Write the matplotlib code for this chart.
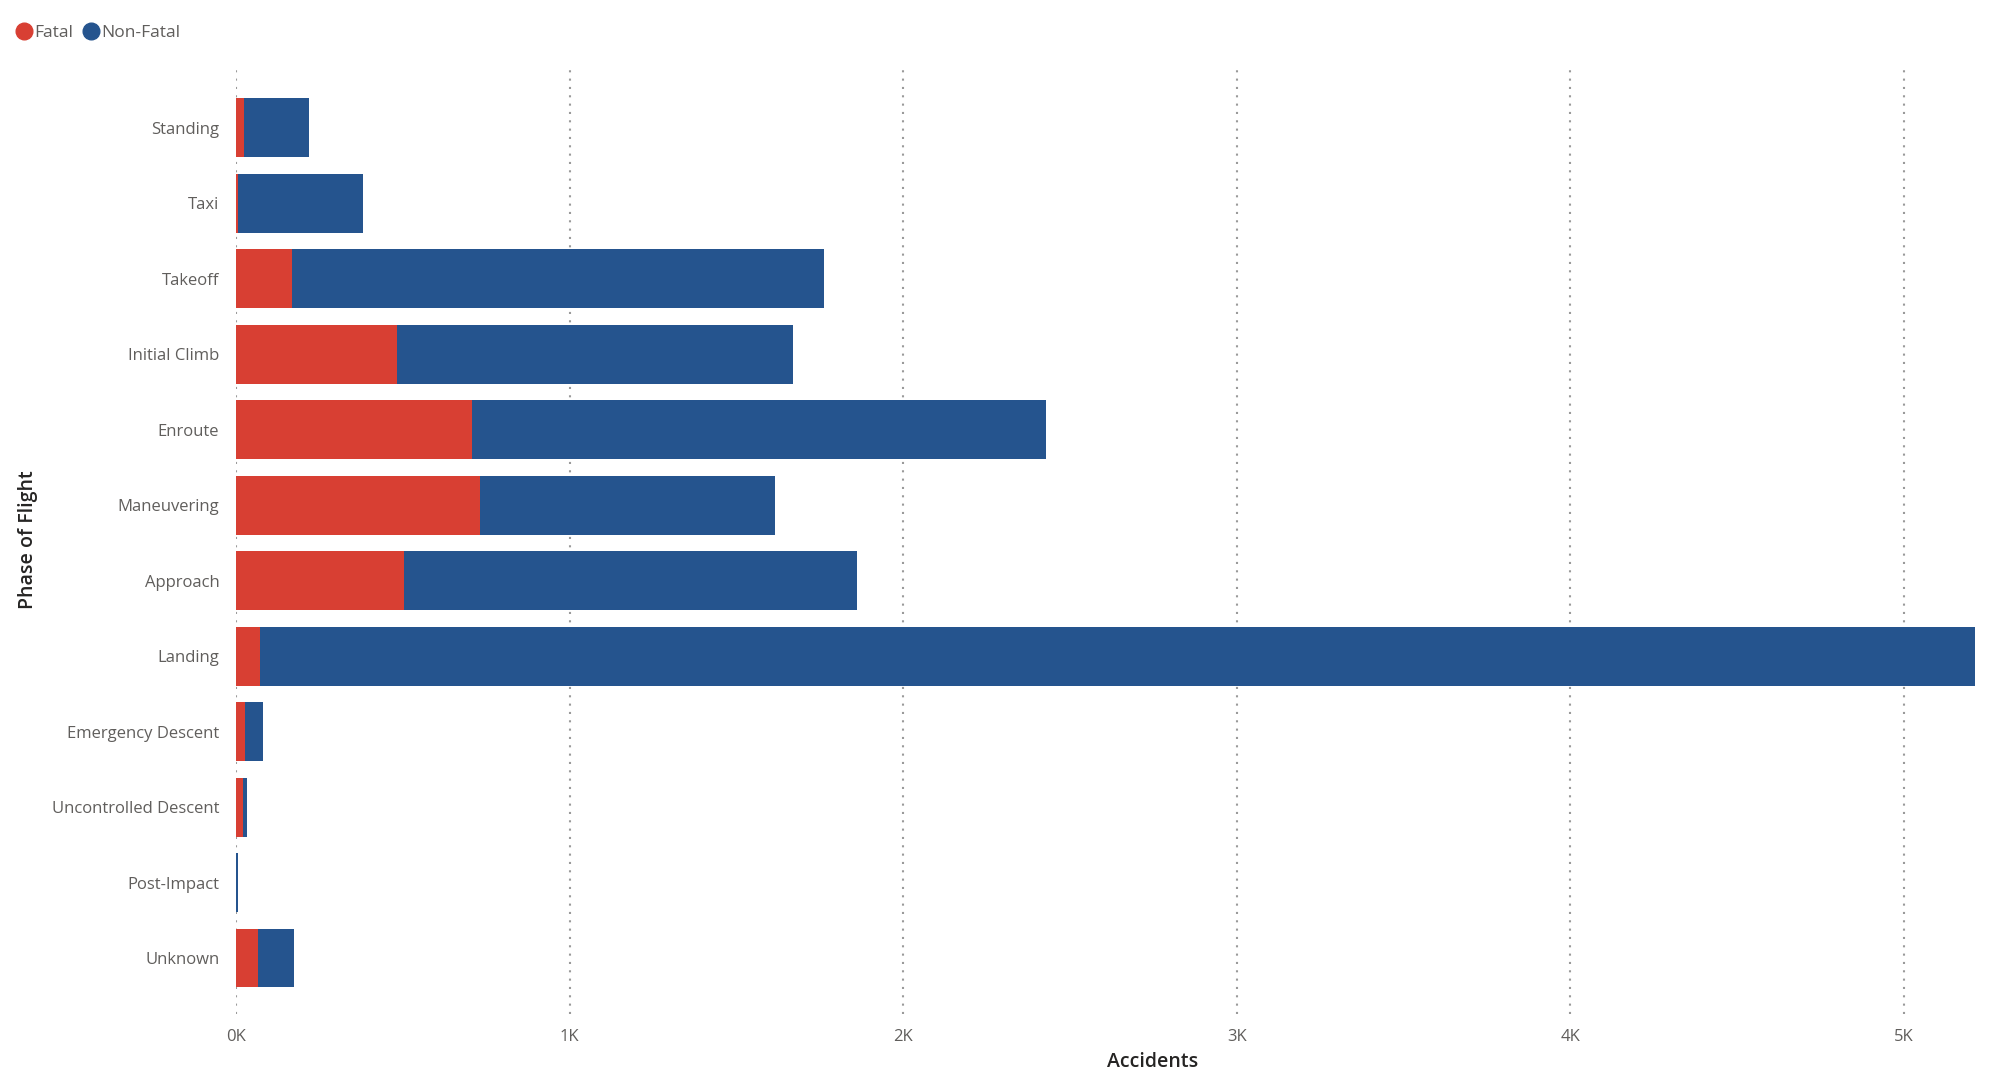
import matplotlib.pyplot as plt
from matplotlib.lines import Line2D
import numpy as np

phases = ["Standing", "Taxi", "Takeoff", "Initial Climb", "Enroute", "Maneuvering",
          "Approach", "Landing", "Emergency Descent", "Uncontrolled Descent",
          "Post-Impact", "Unknown"]
fatal = [25, 5, 167, 482, 707, 730, 505, 73, 28, 21, 1, 65]
non_fatal = [195, 377, 1595, 1188, 1720, 887, 1357, 5140, 54, 12, 4, 109]

red = "#D83F33"
blue = "#25548E"
label_col = "#605E5C"
title_col = "#252423"

plt.rcParams['font.family'] = ['Open Sans', 'DejaVu Sans']

fig = plt.figure(figsize=(20, 10.74), dpi=100)
ax = fig.add_axes([0.118, 0.056, 0.8695, 0.884])

y = np.arange(len(phases))
ax.barh(y, fatal, height=0.78, color=red, zorder=3)
ax.barh(y, non_fatal, left=fatal, height=0.78, color=blue, zorder=3)

ax.set_ylim(11.74, -0.84)
ax.set_xlim(0, max(f + n for f, n in zip(fatal, non_fatal)))
ax.set_yticks(y)
ax.set_yticklabels(phases, fontsize=12, color=label_col)
ax.set_xticks([0, 1000, 2000, 3000, 4000, 5000])
ax.set_xticklabels(["0K", "1K", "2K", "3K", "4K", "5K"], fontsize=12, color=label_col)
ax.tick_params(axis='both', length=0)
ax.tick_params(axis='y', pad=12)
ax.tick_params(axis='x', pad=11)
for s in ax.spines.values():
    s.set_visible(False)
ax.grid(axis='x', color="#9A9A9A", linestyle=(0, (1, 3)), linewidth=1.5, zorder=0)

ax.set_xlabel("Accidents", fontsize=14, color=title_col, fontweight='semibold')
ax.xaxis.set_label_coords(0.527, -0.04)
ax.set_ylabel("Phase of Flight", fontsize=14, color=title_col, fontweight='semibold')
ax.yaxis.set_label_coords(-0.114, 0.5)

handles = [Line2D([], [], marker='o', linestyle='', markersize=12, color=red, label="Fatal"),
           Line2D([], [], marker='o', linestyle='', markersize=12, color=blue, label="Non-Fatal")]
fig.legend(handles=handles, loc='upper left', bbox_to_anchor=(-0.003, 0.988), ncol=2,
           frameon=False, fontsize=12.5, handletextpad=-0.4, columnspacing=0.05,
           labelcolor=label_col, borderaxespad=0.3)

fig.savefig("out.png")
